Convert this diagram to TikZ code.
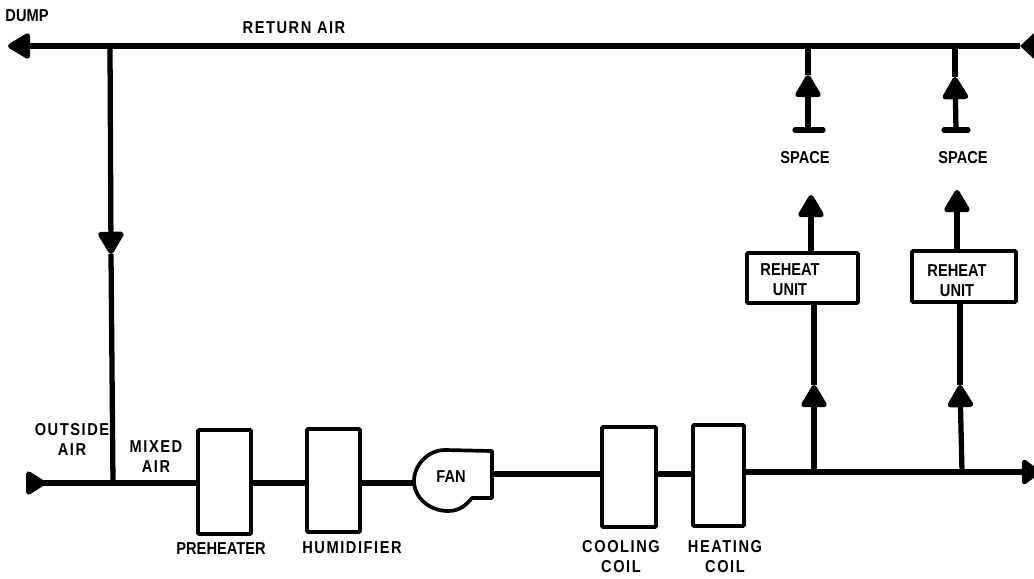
\documentclass[tikz,border=0pt]{standalone}
\usepackage{fontspec}
\setmainfont[FakeStretch=0.85]{Liberation Sans}
\usetikzlibrary{arrows.meta, positioning}
\tikzset{
    pipe/.style={line width=3pt, line join=round},
    unitbox/.style={draw, line width=2.1pt, fill=white, inner sep=0pt, rounded corners=0.5pt},
    lbl/.style={font=\fontsize{9.8}{11.4}\selectfont\bfseries, align=center, inner sep=0pt},
    widelbl/.style={font=\fontsize{9.8}{11.4}\selectfont\bfseries\addfontfeature{LetterSpace=9}, align=center, inner sep=0pt},
    head/.style={-{Triangle[length=0.5cm, width=0.56cm, round]}},
    cuthead/.style={-{Triangle[length=0.28cm, width=0.5cm]}}
}

\begin{document}
\begin{tikzpicture}[x=0.02cm, y=-0.02cm]
    \useasboundingbox (0,0) rectangle (1034,578);

    % return air line
    \coordinate (dump) at (8,46);
    \coordinate (retend) at (1034,46);
    \coordinate (rettip) at (1020,46);
    \coordinate (retjoin) at (110,46);
    \coordinate (supjoin) at (113,483);
    \coordinate (downtip) at (111,254);
    \coordinate (outside) at (26,483);

    % units along the bottom
    \node[unitbox, minimum width=1.06cm, minimum height=2.08cm] (preheat) at (224.5,482) {};
    \node[unitbox, minimum width=1.06cm, minimum height=2.06cm] (humid) at (333.5,480.5) {};
    \node[unitbox, minimum width=1.08cm, minimum height=2cm] (cool) at (629,477) {};
    \node[unitbox, minimum width=1.02cm, minimum height=2.02cm] (heat) at (718.5,475.5) {};
    \coordinate (fanin) at (414,483);
    \coordinate (fanout) at (492,474);
    \coordinate (supend) at (1040,472);
    \coordinate (suptip) at (1021,472);

    \draw[line width=2.1pt, line join=round, fill=white] (492,451) -- (445,450)
        .. controls (428,450) and (414,465) .. (414,481)
        .. controls (414,498) and (430,511) .. (448,511)
        .. controls (460,511) and (466,505) .. (472,498)
        -- (492,498) -- cycle;

    % reheat units
    \node[unitbox, minimum width=2.22cm, minimum height=1cm] (reheata) at (802.5,278) {};
    \node[unitbox, minimum width=2.08cm, minimum height=1.02cm] (reheatb) at (964,276.5) {};

    % branches
    \coordinate (brancha) at (814,472);
    \coordinate (branchb) at (962,472);
    \coordinate (risea) at (814,385);
    \coordinate (riseb) at (960,385);
    \coordinate (spacea) at (811,195);
    \coordinate (spaceb) at (957,190);
    \coordinate (topa) at (808,46);
    \coordinate (topb) at (955,46);
    \coordinate (tipa) at (808,75);
    \coordinate (tipb) at (955,77);
    \coordinate (foota) at (808,130);
    \coordinate (footb) at (956,130);

    \draw[pipe, head] (retjoin) -- (dump);
    \draw[pipe] (rettip) -- (retjoin);
    \draw[pipe, cuthead] (retend) -- (rettip);
    \draw[pipe, head] (retjoin) -- (downtip);
    \draw[pipe] (downtip) -- (supjoin);

    \draw[pipe, -{Triangle[length=0.44cm, width=0.52cm, round, reversed]}] (supjoin) -- (outside);
    \draw[pipe] (supjoin) -- (preheat.west |- supjoin);
    \draw[pipe] (preheat.east |- supjoin) -- (humid.west |- supjoin);
    \draw[pipe] (humid.east |- supjoin) -- (fanin);
    \draw[pipe] (fanout) -- (cool.west |- fanout);
    \draw[pipe] (cool.east |- fanout) -- (heat.west |- fanout);
    \draw[pipe] (heat.east |- supend) -- (suptip);
    \draw[pipe, -{Triangle[length=0.4cm, width=0.56cm, round]}] (suptip) -- (supend);

    \draw[pipe, head] (brancha) -- (risea);
    \draw[pipe] (risea) -- (reheata.south -| risea);
    \draw[pipe, head] (reheata.north -| spacea) -- (spacea);
    \draw[pipe, head] (branchb) -- (riseb);
    \draw[pipe] (riseb) -- (reheatb.south -| riseb);
    \draw[pipe, head] (reheatb.north -| spaceb) -- (spaceb);

    \draw[pipe, head] (foota) -- (tipa);
    \draw[pipe] (tipa) -- (topa);
    \draw[pipe, line cap=round] (795,130) -- (foota) -- (823,130);
    \draw[pipe, head] (footb) -- (tipb);
    \draw[pipe] (tipb) -- (topb);
    \draw[pipe, line cap=round] (944,130) -- (footb) -- (968,130);

    % labels
    \node[lbl] (dumplbl) at (27,16) {DUMP};
    \node[widelbl] (retlbl) at (294,28) {RETURN AIR};
    \node[lbl] (spacelbla) at (805,158) {SPACE};
    \node[lbl] (spacelblb) at (963,158) {SPACE};
    \node[lbl] (reheatlbla) at (790,280) {REHEAT\\UNIT};
    \node[lbl] (reheatlblb) at (957,281) {REHEAT\\UNIT};
    \node[widelbl] (outlbl) at (72,439) {OUTSIDE\\AIR};
    \node[widelbl] (mixlbl) at (156,457) {MIXED\\AIR};
    \node[lbl] (fan) at (451,477) {FAN};
    \node[lbl] (preheatlbl) at (221,549) {PREHEATER};
    \node[widelbl] (humidlbl) at (352,548) {HUMIDIFIER};
    \node[widelbl] (coollbl) at (621,557) {COOLING\\COIL};
    \node[widelbl] (heatlbl) at (725,557) {HEATING\\COIL};
\end{tikzpicture}
\end{document}
